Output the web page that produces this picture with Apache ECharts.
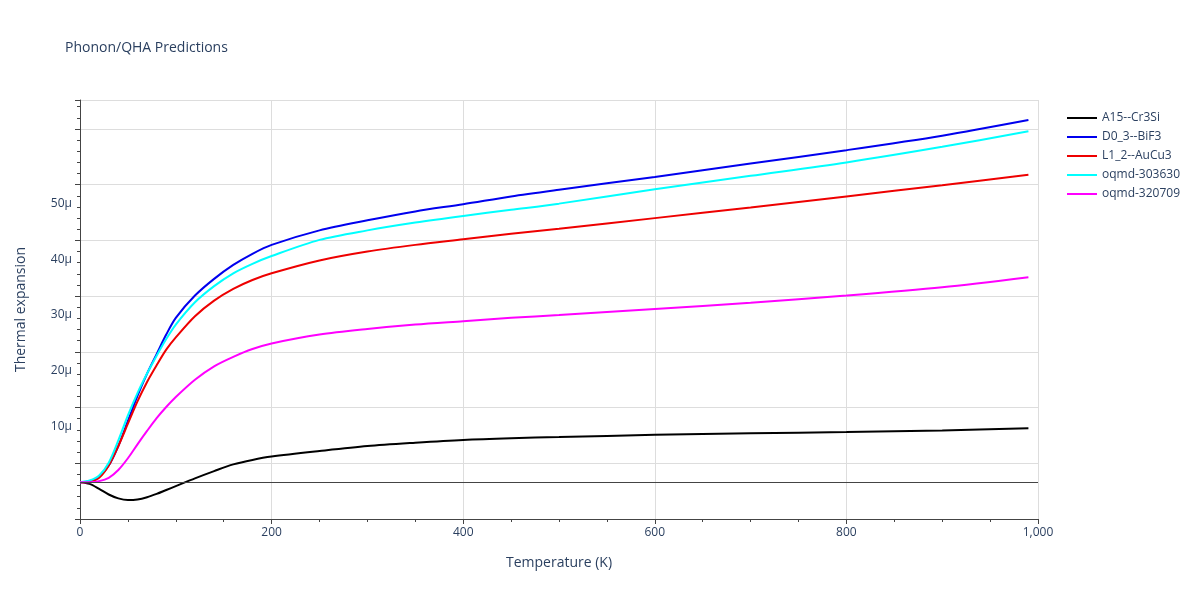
<!DOCTYPE html>
<html>
<head>
<meta charset="utf-8">
<script src="https://cdn.jsdelivr.net/npm/echarts@6/dist/echarts.min.js"></script>
<style>html,body{margin:0;padding:0;background:#fff}</style>
</head>
<body>
<div id="main" style="width:1200px;height:600px"></div>
<script>
const temps = [0,10,20,30,40,50,60,70,80,90,100,120,140,160,180,200,250,300,350,400,450,500,600,700,800,900,990];
const a15 = [0,-0.3,-1.2,-2.2,-2.9,-3.2,-3.1,-2.7,-2.1,-1.4,-0.7,0.7,2.0,3.2,4.0,4.6,5.6,6.5,7.1,7.6,7.9,8.1,8.5,8.8,9.0,9.3,9.7];
const d03 = [0,0.2,1.0,3.0,6.5,11,15.5,19.5,23,26.5,29.5,33.5,36.5,39,41,42.6,45.2,47.0,48.6,49.9,51.3,52.5,54.8,57.2,59.6,62.2,65];
const l12 = [0,0.1,0.8,3.0,6.5,10.5,14.5,18,21,23.8,26,29.8,32.6,34.7,36.3,37.5,39.8,41.4,42.6,43.6,44.6,45.5,47.4,49.3,51.3,53.3,55.2];
const q303630 = [0,0.3,1.2,3.5,7.5,12,16,19.5,22.7,25.7,28.3,32.3,35.2,37.5,39.2,40.6,43.5,45.2,46.6,47.8,48.9,50,52.6,55,57.4,60.2,63];
const q320709 = [0,0,0.2,0.8,2.2,4.3,6.8,9.2,11.5,13.5,15.3,18.4,20.8,22.5,23.9,24.9,26.5,27.5,28.3,28.9,29.5,30,31.1,32.2,33.5,35,36.8];

const names = ['A15--Cr3Si','D0_3--BiF3','L1_2--AuCu3','oqmd-303630','oqmd-320709'];
const colors = ['#000000','#0000ee','#ee0000','#00ffff','#ff00ff'];
const all = [a15,d03,l12,q303630,q320709];

const chart = echarts.init(document.getElementById('main'));
const font = {fontFamily:'Open Sans', color:'#2a3f5f'};
chart.setOption({
  title:{text:'Phonon/QHA Predictions', left:60, top:36, textStyle:{...font, fontSize:14, fontWeight:'normal'}},
  legend:{orient:'vertical', left:1062, top:107, itemGap:7, itemWidth:30, icon:'path://M0,0 L30,0 L30,2 L0,2 Z',
    textStyle:{...font, fontSize:12}, data:names},
  grid:{left:80, right:162, top:100, bottom:81},
  xAxis:{type:'value', min:0, max:1000, interval:200,
    name:'Temperature (K)', nameLocation:'middle', nameGap:37, nameTextStyle:{...font, fontSize:14},
    axisLine:{onZero:false, lineStyle:{color:'#444'}}, axisTick:{show:true, length:5, lineStyle:{color:'#444'}},
    minorTick:{show:true, splitNumber:4, length:3},
    axisLabel:{...font, fontSize:12}, splitLine:{lineStyle:{color:'#ddd'}}},
  yAxis:{type:'value', min:-6.6, max:68.6, interval:10,
    name:'Thermal expansion', nameLocation:'middle', nameGap:52, nameTextStyle:{...font, fontSize:14},
    axisLine:{show:true, onZero:false, lineStyle:{color:'#444'}}, axisTick:{show:true, length:5, lineStyle:{color:'#444'}},
    minorTick:{show:true, splitNumber:5, length:3},
    axisLabel:{...font, fontSize:12, showMinLabel:false, showMaxLabel:false,
      formatter:v => Math.abs(v-Math.round(v))>1e-6 ? '' : (v===0 ? '0' : v+'µ'),
      customValues:[0,10,20,30,40,50,60]},
    splitLine:{lineStyle:{color:'#ddd'}}},
  series: names.map((n,i)=>({
    name:n, type:'line', showSymbol:false, smooth:0.3, color:colors[i],
    lineStyle:{width:2}, data: temps.map((t,j)=>[t, all[i][j]]),
    markLine: i===0 ? {silent:true, symbol:'none', label:{show:false}, lineStyle:{color:'#444', type:'solid', width:1}, data:[{yAxis:0}]} : undefined
  }))
});
</script>
</body>
</html>
